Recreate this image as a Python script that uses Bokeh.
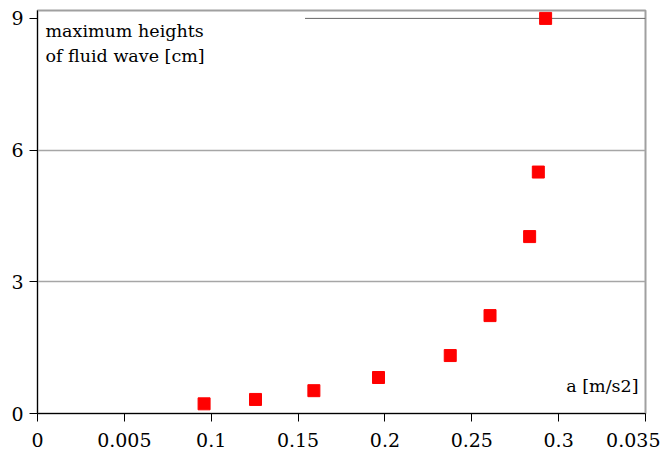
from bokeh.plotting import figure
from bokeh.models import ColumnDataSource, Label, FixedTicker, Segment
from bokeh.embed import file_html
from bokeh.resources import INLINE

# data
accel = [0.0959, 0.1255, 0.1591, 0.1963, 0.2376, 0.2605, 0.2833, 0.2883, 0.2925]
height_cm = [0.22, 0.32, 0.52, 0.82, 1.32, 2.23, 4.03, 5.50, 9.00]

x_ticks = [0, 0.05, 0.1, 0.15, 0.2, 0.25, 0.3, 0.35]
x_tick_labels = ["0", "0.005", "0.1", "0.15", "0.2", "0.25", "0.3", "0.035"]
y_ticks = [0, 3, 6, 9]
y_grid_ticks = [3, 6]

FONT = "DejaVu Serif"

p = figure(width=660, height=458, x_range=(0, 0.35), y_range=(0, 9.18),
           output_backend="svg", toolbar_location=None,
           min_border_left=37, min_border_right=15,
           min_border_top=10, min_border_bottom=45)
p.background_fill_color = "white"
p.border_fill_color = "white"
p.outline_line_color = "#a0a0a0"
p.outline_line_width = 2

p.xaxis.ticker = FixedTicker(ticks=x_ticks)
p.xaxis.major_label_overrides = {t: l for t, l in zip(x_ticks, x_tick_labels)}
p.yaxis.ticker = FixedTicker(ticks=y_ticks)
p.yaxis.major_label_overrides = {t: str(t) for t in y_ticks}

for ax in (p.xaxis[0], p.yaxis[0]):
    ax.axis_line_color = "black"
    ax.axis_line_width = 1
    ax.major_tick_line_color = "black"
    ax.major_tick_in = 0
    ax.major_tick_out = 8
    ax.minor_tick_line_color = None
    ax.major_label_text_font = FONT
    ax.major_label_text_font_size = "19px"
    ax.major_label_text_color = "black"
p.xaxis.major_label_standoff = 11
p.yaxis.major_label_standoff = 6

p.xgrid.visible = False
p.ygrid.ticker = FixedTicker(ticks=y_grid_ticks)
p.ygrid.grid_line_color = "#a6a6a6"
p.ygrid.grid_line_width = 1.5

# partial gridline at 9
top_grid = ColumnDataSource(dict(x0=[0.154], x1=[0.35], y0=[9], y1=[9]))
p.add_glyph(top_grid, Segment(x0="x0", x1="x1", y0="y0", y1="y1",
                              line_color="#666666", line_width=1))

src = ColumnDataSource(dict(x=accel, y=height_cm))
p.scatter("x", "y", source=src, marker="square", size=12,
          fill_color="#ff0000", line_color="#ff0000")

p.add_layout(Label(x=8, y=383, x_units="screen", y_units="screen",
                   text="maximum heights", text_font=FONT,
                   text_font_size="17.5px", text_baseline="alphabetic",
                   text_color="black"))
p.add_layout(Label(x=8, y=358, x_units="screen", y_units="screen",
                   text="of fluid wave [cm]", text_font=FONT,
                   text_font_size="17.5px", text_baseline="alphabetic",
                   text_color="black"))
p.add_layout(Label(x=601, y=28, x_units="screen", y_units="screen",
                   text="a [m/s2]", text_font=FONT,
                   text_font_size="17.5px", text_align="right",
                   text_baseline="alphabetic", text_color="black"))

open("out.html", "w").write(file_html(p, INLINE))
